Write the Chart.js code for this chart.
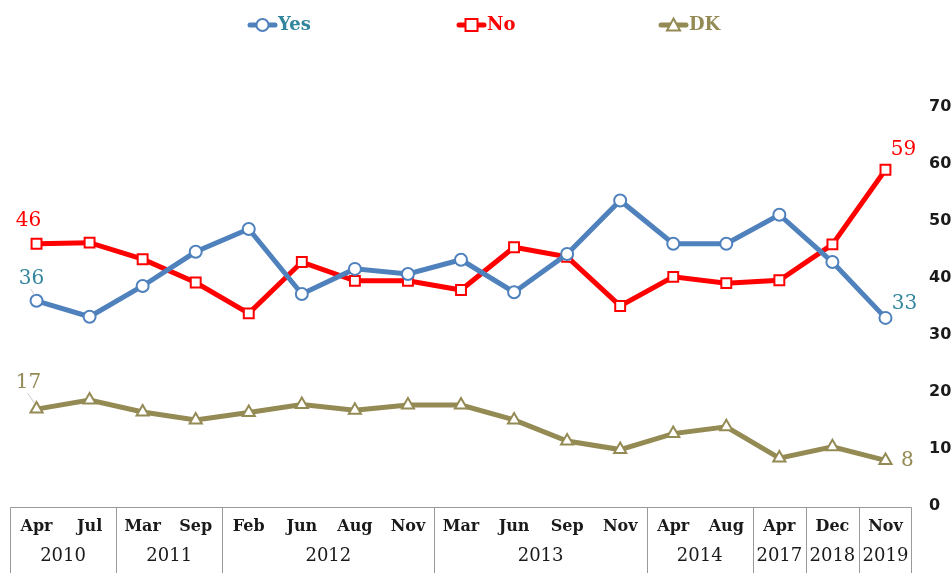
<!DOCTYPE html>
<html>
<head>
<meta charset="utf-8">
<script src="https://cdn.jsdelivr.net/npm/chart.js@4.4.1/dist/chart.umd.min.js"></script>
<style>
  html, body { margin: 0; padding: 0; background: #ffffff; }
  #wrap { width: 952px; height: 573px; }
</style>
</head>
<body>
<div id="wrap"><canvas id="chart" width="952" height="573"></canvas></div>
<script>
// Survey months and the year each one belongs to
const months = ['Apr','Jul','Mar','Sep','Feb','Jun','Aug','Nov','Mar','Jun','Sep','Nov','Apr','Aug','Apr','Dec','Nov'];
const years  = ['2010','2010','2011','2011','2012','2012','2012','2012','2013','2013','2013','2013','2014','2014','2017','2018','2019'];

// Responses (%)
const yesValues = [36, 33.2, 38.6, 44.6, 48.6, 37.2, 41.6, 40.7, 43.2, 37.5, 44.2, 53.6, 46.0, 46.0, 51.1, 42.8, 33];
const noValues  = [46, 46.2, 43.3, 39.2, 33.8, 42.8, 39.5, 39.5, 37.9, 45.4, 43.7, 35.1, 40.2, 39.1, 39.6, 45.9, 59];
const dkValues  = [17, 18.6, 16.5, 15.1, 16.4, 17.8, 16.8, 17.7, 17.7, 15.1, 11.4, 9.9, 12.7, 13.9, 8.4, 10.4, 8];

// Right-hand value axis
const yTicks = [0, 10, 20, 30, 40, 50, 60, 70];

const SERIF = '"DejaVu Serif", "Liberation Serif", serif';
const SANS = '"DejaVu Sans", "Liberation Sans", sans-serif';

const BLUE = '#4F81BD', TEAL = '#31859C', RED = '#FF0000', OLIVE = '#948A54';

// Two-row category table under the plot: months on top, year groups below
const tableAxis = {
  id: 'tableAxis',
  afterDraw(chart) {
    const ctx = chart.ctx;
    const x = chart.scales.x;
    const area = chart.chartArea;
    const top = area.bottom + 1;
    const bottom = chart.height + 2;
    ctx.save();
    ctx.strokeStyle = '#9a9a9a';
    ctx.lineWidth = 1;
    ctx.beginPath();
    ctx.moveTo(area.left + 0.5, bottom);
    ctx.lineTo(area.left + 0.5, top + 0.5);
    ctx.lineTo(area.right - 0.5, top + 0.5);
    ctx.lineTo(area.right - 0.5, bottom);
    ctx.stroke();

    // month labels
    ctx.fillStyle = '#1a1a1a';
    ctx.textAlign = 'center';
    ctx.textBaseline = 'middle';
    ctx.font = 'bold 16px ' + SERIF;
    months.forEach((m, i) => ctx.fillText(m, x.getPixelForValue(i), top + 20));

    // year groups and separators
    ctx.font = '18px ' + SERIF;
    let start = 0;
    for (let i = 1; i <= years.length; i++) {
      if (i === years.length || years[i] !== years[start]) {
        const left = start === 0 ? area.left : (x.getPixelForValue(start - 1) + x.getPixelForValue(start)) / 2;
        const right = i === years.length ? area.right : (x.getPixelForValue(i - 1) + x.getPixelForValue(i)) / 2;
        ctx.fillText(years[start], (left + right) / 2, top + 49);
        if (i < years.length) {
          const sx = Math.round(right) + 0.5;
          ctx.beginPath();
          ctx.moveTo(sx, top);
          ctx.lineTo(sx, bottom);
          ctx.stroke();
        }
        start = i;
      }
    }
    ctx.restore();
  }
};

// Values written next to the first and last point of each series
const endLabels = {
  id: 'endLabels',
  afterDatasetsDraw(chart) {
    const ctx = chart.ctx;
    const specs = [
      { ds: 0, idx: 0, dx: -5, dy: -22, leader: true },
      { ds: 1, idx: 0, dx: -8, dy: -23, leader: false },
      { ds: 2, idx: 0, dx: -8, dy: -26, leader: true },
      { ds: 0, idx: 16, dx: 19, dy: -14, leader: false },
      { ds: 1, idx: 16, dx: 18, dy: -20, leader: false },
      { ds: 2, idx: 16, dx: 22, dy: 0, leader: false }
    ];
    ctx.save();
    ctx.font = '20px ' + SERIF;
    ctx.textAlign = 'center';
    ctx.textBaseline = 'middle';
    specs.forEach(s => {
      const dataset = chart.data.datasets[s.ds];
      const pt = chart.getDatasetMeta(s.ds).data[s.idx];
      const lx = pt.x + s.dx, ly = pt.y + s.dy;
      if (s.leader) {
        ctx.strokeStyle = '#c8c8c8';
        ctx.lineWidth = 1;
        ctx.beginPath();
        ctx.moveTo(lx - 1, ly + 10);
        ctx.lineTo(pt.x - 2, pt.y - 6);
        ctx.stroke();
      }
      ctx.fillStyle = dataset.labelColor;
      ctx.fillText(String(dataset.data[s.idx]), lx, ly);
    });
    ctx.restore();
  }
};

// Legend across the top: line sample with marker, then the series name
const topLegend = {
  id: 'topLegend',
  afterDraw(chart) {
    const ctx = chart.ctx;
    const starts = [248, 457, 659];
    const y = 25;
    ctx.save();
    chart.data.datasets.forEach((d, i) => {
      const x0 = starts[i], x1 = x0 + 29, cx = (x0 + x1) / 2;
      ctx.strokeStyle = d.borderColor;
      ctx.lineWidth = 5;
      ctx.lineCap = 'round';
      ctx.beginPath();
      ctx.moveTo(x0 + 2, y);
      ctx.lineTo(x1 - 2, y);
      ctx.stroke();
      ctx.lineWidth = 2;
      ctx.fillStyle = '#ffffff';
      ctx.beginPath();
      if (d.pointStyle === 'circle') {
        ctx.arc(cx, y, 6, 0, Math.PI * 2);
      } else if (d.pointStyle === 'rect') {
        ctx.rect(cx - 6, y - 6, 12, 12);
      } else {
        ctx.moveTo(cx, y - 6.5);
        ctx.lineTo(cx + 6.5, y + 5.5);
        ctx.lineTo(cx - 6.5, y + 5.5);
        ctx.closePath();
      }
      ctx.fill();
      ctx.stroke();
      ctx.fillStyle = d.labelColor;
      ctx.font = 'bold 18px ' + SERIF;
      ctx.textAlign = 'left';
      ctx.textBaseline = 'middle';
      ctx.fillText(d.label, x1 + 1, y);
    });
    ctx.restore();
  }
};

function series(label, data, color, labelColor, style, radius) {
  return {
    label, data,
    borderColor: color,
    backgroundColor: '#ffffff',
    labelColor,
    borderWidth: 5,
    pointStyle: style,
    pointRadius: radius,
    pointHoverRadius: radius,
    pointBorderWidth: 2,
    pointBorderColor: color,
    pointBackgroundColor: '#ffffff',
    tension: 0,
    clip: false
  };
}

new Chart(document.getElementById('chart'), {
  type: 'line',
  data: {
    labels: months.map((m, i) => m + ' ' + years[i]),
    datasets: [
      series('Yes', yesValues, BLUE, TEAL, 'circle', 6),
      series('No', noValues, RED, RED, 'rect', 7),
      series('DK', dkValues, OLIVE, OLIVE, 'triangle', 7)
    ]
  },
  options: {
    responsive: false,
    animation: false,
    devicePixelRatio: 1,
    layout: { padding: { top: 107, left: 10, right: 0, bottom: 0 } },
    plugins: {
      legend: { display: false },
      tooltip: { enabled: false },
      title: { display: false }
    },
    scales: {
      x: {
        type: 'category',
        offset: true,
        grid: { display: false, drawTicks: false },
        border: { display: false },
        ticks: { display: false },
        afterFit(scale) { scale.height = 67; }
      },
      y: {
        position: 'right',
        min: 0,
        max: 70,
        afterBuildTicks(scale) { scale.ticks = yTicks.map(v => ({ value: v })); },
        grid: { display: false, drawTicks: false },
        border: { display: false },
        ticks: {
          padding: 17,
          color: '#1a1a1a',
          font: { family: SANS, size: 16, weight: 'bold' }
        },
        afterFit(scale) { scale.width = 40; }
      }
    }
  },
  plugins: [tableAxis, endLabels, topLegend]
});
</script>
</body>
</html>
